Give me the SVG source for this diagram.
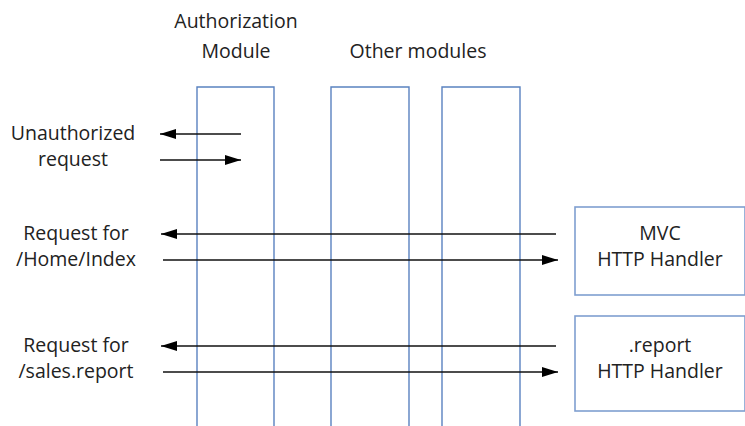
<svg xmlns="http://www.w3.org/2000/svg" width="745" height="426" viewBox="0 0 745 426">
<style>
text{font-family:"Open Sans","Noto Sans","Liberation Sans",sans-serif;font-size:19.5px;fill:#222;text-anchor:middle;dominant-baseline:middle}
.col{fill:none;stroke:#5a82c0;stroke-width:1.4}
.box{fill:#fff;stroke:#7f9fd0;stroke-width:1.6}
.arr{stroke:#111;stroke-width:1.5;fill:none}
</style>
<defs>
<marker id="ah" viewBox="0 0 16 11" refX="16" refY="5.5" markerWidth="16" markerHeight="11" markerUnits="userSpaceOnUse" orient="auto">
<path d="M0,0.5 L16,5.5 L0,10.5 z" fill="#000"/>
</marker>
</defs>
<rect width="745" height="426" fill="#fff"/>
<g id="auth-module">
<path class="col" d="M197,426 V87 H274 V426"/>
<text x="236" y="23">Authorization</text>
<text x="236" y="53">Module</text>
</g>
<g id="other-modules">
<path class="col" d="M331,426 V87 H409 V426"/>
<path class="col" d="M442,426 V87 H520 V426"/>
<text x="418" y="53">Other modules</text>
</g>
<g id="mvc-handler">
<rect class="box" x="575" y="207" width="170" height="88"/>
<text x="660" y="235">MVC</text>
<text x="660" y="261">HTTP Handler</text>
</g>
<g id="report-handler">
<rect class="box" x="575" y="316" width="170" height="95"/>
<text x="660" y="347">.report</text>
<text x="660" y="373">HTTP Handler</text>
</g>
<g id="labels">
<text x="73" y="135">Unauthorized</text>
<text x="73" y="161">request</text>
<text x="76" y="235">Request for</text>
<text x="76" y="261">/Home/Index</text>
<text x="76" y="347">Request for</text>
<text x="76" y="373">/sales.report</text>
</g>
<g id="connectors">
<line class="arr" x1="241" y1="134" x2="160" y2="134" marker-end="url(#ah)"/>
<line class="arr" x1="160" y1="160" x2="241" y2="160" marker-end="url(#ah)"/>
<line class="arr" x1="556" y1="234" x2="161" y2="234" marker-end="url(#ah)"/>
<line class="arr" x1="163" y1="260" x2="558" y2="260" marker-end="url(#ah)"/>
<line class="arr" x1="556" y1="346" x2="161" y2="346" marker-end="url(#ah)"/>
<line class="arr" x1="163" y1="372" x2="558" y2="372" marker-end="url(#ah)"/>
</g>
</svg>
